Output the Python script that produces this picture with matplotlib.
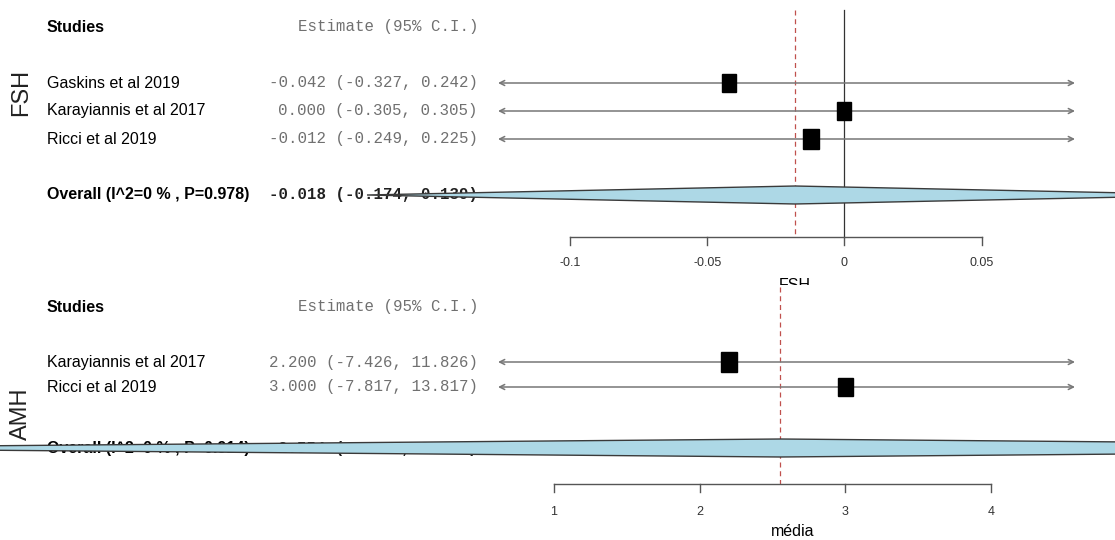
import numpy as np
import matplotlib
matplotlib.use("Agg")
import matplotlib.pyplot as plt
from matplotlib import transforms
from matplotlib.patches import Rectangle, Polygon

# dados (FSH)
fsh_studies = ["Gaskins et al 2019", "Karayiannis et al 2017", "Ricci et al 2019"]
fsh_est = [-0.042, 0.000, -0.012]
fsh_lo = [-0.327, -0.305, -0.249]
fsh_hi = [0.242, 0.305, 0.225]
fsh_overall = [-0.018, -0.174, 0.139]
fsh_overall_label = "Overall (I^2=0 % , P=0.978)"
fsh_ticks = [-0.1, -0.05, 0, 0.05]
fsh_ticklabels = ["-0.1", "-0.05", "0", "0.05"]

# dados (AMH)
amh_studies = ["Karayiannis et al 2017", "Ricci et al 2019"]
amh_est = [2.200, 3.000]
amh_lo = [-7.426, -7.817]
amh_hi = [11.826, 13.817]
amh_overall = [2.554, -4.637, 9.745]
amh_overall_label = "Overall (I^2=0 % , P=0.914)"
amh_ticks = [1, 2, 3, 4]
amh_ticklabels = ["1", "2", "3", "4"]

W, H = 1115, 540
SANS = ["Liberation Sans", "DejaVu Sans"]
MONO = ["Liberation Mono", "DejaVu Sans Mono"]
FS = 11.5

fig = plt.figure(figsize=(W / 100, H / 100), dpi=100)


def panel(top, bottom, studies, est, lo, hi, overall, overall_label, ticks,
          ticklabels, tick_px, group, xlabel, y):
    # eixo que cobre a largura toda, y em pixels a partir do topo
    ax = fig.add_axes([0, 1 - bottom / H, 1, (bottom - top) / H])
    ax.set_axis_off()
    scale = (tick_px[1] - tick_px[0]) / (ticks[-1] - ticks[0])
    x0 = ticks[0] - tick_px[0] / scale
    ax.set_xlim(x0, x0 + W / scale)
    ax.set_ylim(bottom, top)
    tr = transforms.blended_transform_factory(ax.transAxes, ax.transData)
    fx = lambda px: px / W
    pmin, pmax = x0 + 498 / scale, x0 + 1075 / scale

    # colunas de texto
    ax.text(fx(47), y["head"], "Studies", transform=tr, family=SANS,
            weight="bold", fontsize=FS, va="center")
    ax.text(fx(478), y["head"], "Estimate (95% C.I.)", transform=tr,
            family=MONO, fontsize=11.3, color="#707070", va="center", ha="right")
    for i, s in enumerate(studies):
        yy = y["rows"][i]
        ax.text(fx(47), yy, s, transform=tr, family=SANS, fontsize=FS, va="center")
        ax.text(fx(478), yy, "%.3f (%.3f, %.3f)" % (est[i], lo[i], hi[i]),
                transform=tr, family=MONO, fontsize=11.3, color="#707070",
                va="center", ha="right")
    ax.text(fx(47), y["over"], overall_label, transform=tr, family=SANS,
            weight="bold", fontsize=FS, va="center")
    ax.text(fx(478), y["over"], "%.3f (%.3f, %.3f)" % tuple(overall),
            transform=tr, family=MONO, fontsize=11.3, color="#202020",
            weight="bold", va="center", ha="right")
    ax.text(fx(21), y["group"], group, transform=tr, fontsize=17,
            family=SANS, rotation=90, va="center", ha="center",
            color="#222222")

    # IC com setas
    w = 1 / ((np.array(hi) - np.array(lo)) / 3.92) ** 2
    sz = y["sq"] * (w / w.max()) ** 0.3
    for i in range(len(est)):
        yy = y["rows"][i]
        a, b = max(lo[i], pmin), min(hi[i], pmax)
        style = ("<" if lo[i] < pmin else "") + "-" + (">" if hi[i] > pmax else "")
        ax.annotate("", xy=(b, yy), xytext=(a, yy),
                    arrowprops=dict(arrowstyle=style, color="#777777", lw=1.1,
                                    shrinkA=0, shrinkB=0, mutation_scale=9))
        wd = sz[i] / scale
        ht = sz[i] * 1.25
        ax.add_patch(Rectangle((est[i] - wd / 2, yy - ht / 2), wd, ht,
                               color="black", zorder=4))

    # linhas verticais
    if ticks[0] <= 0 <= ticks[-1]:
        ax.plot([0, 0], [y["vtop"], y["axis"]], color="#333333", lw=0.9)
    ax.plot([overall[0]] * 2, [y["vtop"], y["axis"]], color="#c0504d",
            lw=0.9, ls=(0, (4, 3)))

    # diamante
    m, l, h = overall
    hh = y["dia"]
    yo = y["over"]
    ax.add_patch(Polygon([(l, yo), (m, yo - hh), (h, yo), (m, yo + hh)],
                         closed=True, facecolor="#add8e6", edgecolor="#3a3a3a",
                         lw=1.0, zorder=5, clip_on=False))

    # eixo x
    ax.plot([ticks[0], ticks[-1]], [y["axis"]] * 2, color="#555555", lw=1)
    for t, lab in zip(ticks, ticklabels):
        ax.plot([t, t], [y["axis"], y["axis"] + 8], color="#555555", lw=1)
        ax.text(t, y["tick"], lab, family=SANS, fontsize=9, ha="center",
                va="center", color="#333333")
    ax.text(np.mean([ticks[0], ticks[-1]]) + (ticks[-1] - ticks[0]) * 0.046,
            y["xlab"], xlabel, family=SANS, fontsize=FS, ha="center",
            va="center", clip_on=True)
    return ax


panel(0, 285, fsh_studies, fsh_est, fsh_lo, fsh_hi, fsh_overall,
      fsh_overall_label, fsh_ticks, fsh_ticklabels, (570, 981.5), "FSH", "FSH",
      dict(head=27, rows=[83, 111, 139], over=195, axis=237, tick=263,
           xlab=285, vtop=10, group=92, sq=16, dia=9))

panel(285, 540, amh_studies, amh_est, amh_lo, amh_hi, amh_overall,
      amh_overall_label, amh_ticks, amh_ticklabels, (554, 991), "AMH", "média",
      dict(head=307, rows=[362, 387], over=448, axis=484, tick=512,
           xlab=532, vtop=287, group=414, sq=16, dia=9))

fig.savefig("out.png", dpi=100)
